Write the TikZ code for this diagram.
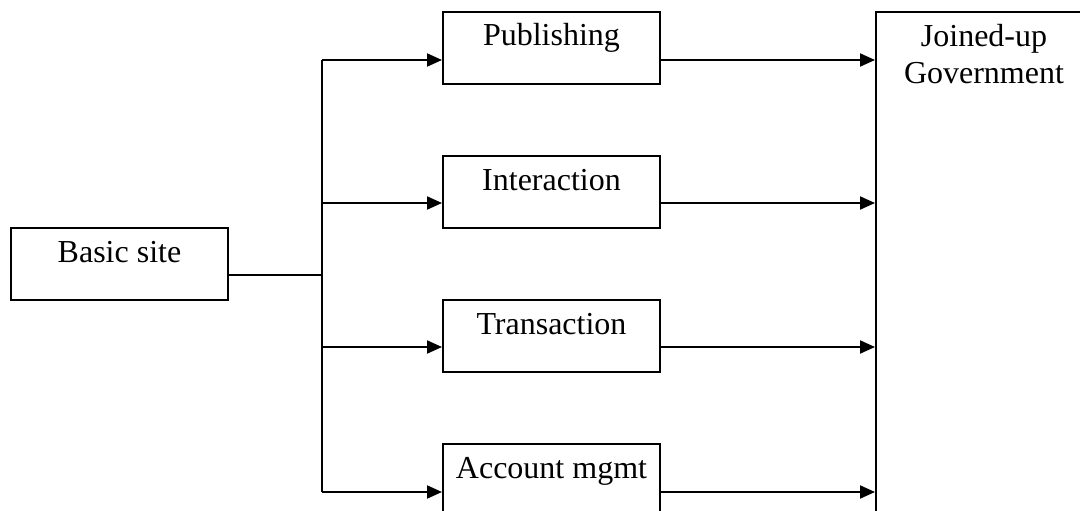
\documentclass[tikz,border=0pt]{standalone}
\usepackage{fontspec}
\setmainfont{Liberation Serif}
\usetikzlibrary{arrows.meta,calc}

\begin{document}
\begin{tikzpicture}[
						x=1pt, y=-1pt,
						every node/.style={font=\fontsize{32}{37}\selectfont},
						% hộp cho từng giai đoạn
						stage/.style={
							draw, line width=2pt, rectangle, anchor=north west,
							inner sep=0pt, minimum width=217pt,
							text height=34pt, text depth=38pt
						},
						link/.style={line width=2pt},
						% mũi tên tam giác đặc
						feed/.style={
							link, -{Triangle[length=15pt,width=13pt]}
						}
						]
						\path[use as bounding box, clip] (0,0) rectangle (1080,511);
						
						% Hộp bên trái và bốn giai đoạn
						\node[stage] (basic) at (10,227) {Basic site};
						\node[stage] (pub) at (442,11) {Publishing};
						\node[stage] (inter) at (442,155) {Interaction};
						\node[stage] (trans) at (442,299) {Transaction};
						\node[stage] (acct) at (442,443) {Account mgmt};
						
						% Hộp cao bên phải (bị cắt ở mép ảnh)
						\node[stage, minimum width=216pt, align=center,
						text height=72pt, text depth=600pt] (joined) at (875,11) {Joined-up\\Government};
						
						% Trục dọc và nhánh từ hộp trái
						\coordinate (hub) at (322,275);
						\coordinate (t1) at (322,60);
						\coordinate (t4) at (322,492);
						\draw[link] (basic.east |- hub) -- (hub);
						\draw[link] (t1) -- (t4);
						
						\foreach \s/\y in {pub/60, inter/203, trans/347, acct/492} {
							\coordinate (row) at (322,\y);
							\draw[feed] (row) -- (\s.west |- row);
							\draw[feed] (\s.east |- row) -- (joined.west |- row);
						}
						
					\end{tikzpicture}
\end{document}
